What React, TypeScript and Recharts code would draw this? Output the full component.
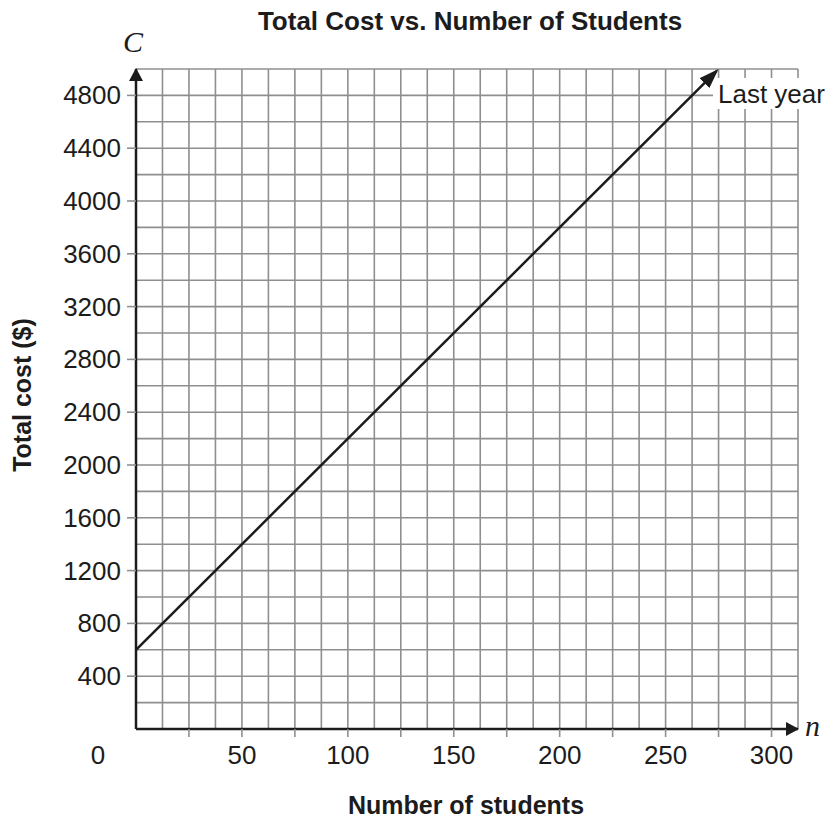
import { LineChart, Line, XAxis, YAxis, CartesianGrid } from "recharts";

// line: cost last year vs students
const studentCounts = [0, 274];
const lastYearCost = [600, 4984];

// grid every 12.5 students / $200
const xGridTicks = [
  0, 12.5, 25, 37.5, 50, 62.5, 75, 87.5, 100, 112.5, 125, 137.5, 150, 162.5,
  175, 187.5, 200, 212.5, 225, 237.5, 250, 262.5, 275, 287.5, 300, 312.5,
];
const yGridTicks = [
  0, 200, 400, 600, 800, 1000, 1200, 1400, 1600, 1800, 2000, 2200, 2400, 2600,
  2800, 3000, 3200, 3400, 3600, 3800, 4000, 4200, 4400, 4600, 4800, 5000,
];
const xTickMarks = [25, 50, 75, 100, 125, 150, 175, 200, 225, 250, 275, 300];
const xTickLabels = [0, 50, 100, 150, 200, 250, 300];
const yTickLabels = [400, 800, 1200, 1600, 2000, 2400, 2800, 3200, 3600, 4000, 4400, 4800];

const chartData = studentCounts.map((n, i) => ({ n, cost: lastYearCost[i] }));

const FONT = '"Liberation Sans", Arial, Helvetica, sans-serif';
const SERIF = '"Liberation Serif", "Times New Roman", serif';
const GRID = "#8f8f8f";
const INK = "#1c1c1c";

const XTick = ({ x, y, payload }: any) => {
  const v = payload.value;
  return (
    <g>
      {xTickMarks.includes(v) && (
        <line x1={x} x2={x} y1={y} y2={y + 8} stroke={GRID} strokeWidth={1.6} />
      )}
      {xTickLabels.includes(v) && (
        <text
          x={v === 0 ? x - 38 : x}
          y={y + 35}
          textAnchor="middle"
          fontSize={26}
          fontFamily={FONT}
          fill={INK}
        >
          {v}
        </text>
      )}
    </g>
  );
};

const YTick = ({ x, y, payload }: any) => {
  const v = payload.value;
  if (!yTickLabels.includes(v)) return <g />;
  return (
    <g>
      <line x1={x - 9} x2={x} y1={y} y2={y} stroke={GRID} strokeWidth={1.6} />
      <text x={x - 15} y={y + 9} textAnchor="end" fontSize={26} fontFamily={FONT} fill={INK}>
        {v}
      </text>
    </g>
  );
};

export default function App() {
  return (
    <div style={{ position: "absolute", left: 0, top: 0, background: "#fff" }}>
      <LineChart
        width={827}
        height={820}
        data={chartData}
        margin={{ top: 69, right: 29, bottom: 0, left: 0 }}
      >
        <defs>
          <marker
            id="axisArrow"
            viewBox="0 0 13 14"
            refX={12}
            refY={7}
            markerWidth={13}
            markerHeight={14}
            markerUnits="userSpaceOnUse"
            orient="auto-start-reverse"
          >
            <path d="M0,0 L13,7 L0,14 Z" fill={INK} />
          </marker>
          <marker
            id="lineArrow"
            viewBox="0 0 20 14"
            refX={17}
            refY={7}
            markerWidth={20}
            markerHeight={14}
            markerUnits="userSpaceOnUse"
            orient="auto"
          >
            <path d="M0,0 L20,7 L0,14 Z" fill={INK} />
          </marker>
        </defs>
        <CartesianGrid stroke={GRID} strokeWidth={1.6} />
        <XAxis
          type="number"
          dataKey="n"
          domain={[0, 312.5]}
          ticks={xGridTicks}
          interval={0}
          height={91}
          tickSize={0}
          tickMargin={0}
          tickLine={false}
          tick={(p: any) => <XTick {...p} />}
          axisLine={{ stroke: INK, strokeWidth: 2.5, markerEnd: "url(#axisArrow)" }}
        />
        <YAxis
          type="number"
          domain={[0, 5000]}
          ticks={yGridTicks}
          interval={0}
          width={136}
          tickSize={0}
          tickMargin={0}
          tickLine={false}
          tick={(p: any) => <YTick {...p} />}
          axisLine={{ stroke: INK, strokeWidth: 2.5, markerStart: "url(#axisArrow)" }}
        />
        <Line
          type="linear"
          dataKey="cost"
          stroke={INK}
          strokeWidth={2.5}
          dot={false}
          activeDot={false}
          markerEnd="url(#lineArrow)"
          isAnimationActive={false}
        />
        <rect x={713} y={78} width={114} height={31} fill="#fff" />
        <text x={718} y={103} fontSize={26} fontFamily={FONT} fill={INK}>
          Last year
        </text>
        <text x={470} y={30} textAnchor="middle" fontSize={26} fontWeight="bold" fontFamily={FONT} fill={INK}>
          Total Cost vs. Number of Students
        </text>
        <text x={466} y={814} textAnchor="middle" fontSize={25} fontWeight="bold" fontFamily={FONT} fill={INK}>
          Number of students
        </text>
        <text
          transform="translate(31, 395) rotate(-90)"
          textAnchor="middle"
          fontSize={25}
          fontWeight="bold"
          fontFamily={FONT}
          fill={INK}
        >
          Total cost ($)
        </text>
        <text x={123} y={52} fontSize={30} fontStyle="italic" fontFamily={SERIF} fill={INK}>
          C
        </text>
        <text x={805} y={736} fontSize={30} fontStyle="italic" fontFamily={SERIF} fill={INK}>
          n
        </text>
      </LineChart>
    </div>
  );
}
